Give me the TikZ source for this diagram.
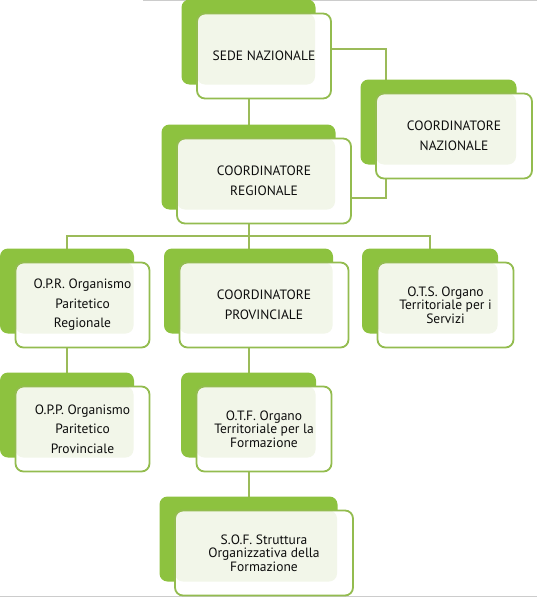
\documentclass[tikz,border=0pt]{standalone}
\usepackage{fontspec}
\setmainfont{PT Sans}
\usepackage{tikz}
\usetikzlibrary{positioning, shadows, backgrounds}
\definecolor{leafgreen}{HTML}{8DC23F}
\definecolor{edgegreen}{HTML}{93BC4F}
\definecolor{linkgreen}{HTML}{9BBB59}
\definecolor{palegreen}{HTML}{F2F6E9}
\definecolor{textdark}{HTML}{0D0D0D}
\definecolor{framegray}{HTML}{CCCCCC}
\tikzset{
  unit/.style={
    rectangle, rounded corners=8pt,
    minimum height=85pt, inner sep=4pt, outer sep=0pt,
    draw=edgegreen, line width=1.8pt, fill=white,
    text=textdark, align=center,
    general shadow={fill=leafgreen, shadow xshift=-15.5pt, shadow yshift=14pt},
    path picture={
      \fill[palegreen, rounded corners=8pt] (path picture bounding box.north west)
        rectangle ([xshift=-16pt,yshift=14pt]path picture bounding box.south east);
    },
  },
  loose/.style={font=\fontsize{13.5}{19.5}\selectfont},
  tight/.style={font=\fontsize{13.5}{13.5}\selectfont},
  link/.style={draw=linkgreen, line width=2pt},
  frame/.style={draw=framegray, line width=0.8pt},
}

\begin{document}
\begin{tikzpicture}
  \useasboundingbox (0,0) rectangle (537pt,-597pt);
  \draw[frame] (143pt,-0.4pt) -- (537pt,-0.4pt);
  \draw[frame] (0,-596.4pt) -- (537pt,-596.4pt);
  \node[unit,loose,minimum width=134pt] (sede) at (264pt,-56pt) {SEDE NAZIONALE};
  \node[unit,loose,minimum width=174pt,below=40pt of sede] (creg) {COORDINATORE\\REGIONALE};
  \node[unit,loose,minimum width=156pt,right=25pt of creg,yshift=45pt] (cnaz) {COORDINATORE\\NAZIONALE};
  \node[unit,loose,minimum width=169pt,below=39pt of creg] (cprov) {COORDINATORE\\PROVINCIALE};
  \node[unit,loose,minimum width=134pt,left=30pt of cprov] (opr) {O.P.R. Organismo\\Paritetico\\Regionale};
  \node[unit,tight,minimum width=136pt,right=29pt of cprov] (ots) {O.T.S. Organo\\Territoriale per i\\Servizi};
  \node[unit,loose,minimum width=134pt,below=39pt of opr] (opp) {O.P.P. Organismo\\Paritetico\\Provinciale};
  \node[unit,tight,minimum width=135pt,below=39pt of cprov] (otf) {O.T.F. Organo\\Territoriale per la\\Formazione};
  \node[unit,tight,minimum width=178pt,below=39pt of otf] (sof) {S.O.F. Struttura\\Organizzativa della\\Formazione};
  \begin{scope}[on background layer]
    \draw[link] ([xshift=-15.5pt]sede.south)--([xshift=-15.5pt]creg.north);
    \draw[link] ([yshift=7pt]sede.east)-|([xshift=10pt]cnaz.north west)|-([yshift=-16.5pt]creg.east);
    \draw[link] ([xshift=-15.5pt]creg.south)--([xshift=-15.5pt]cprov.north);
    \draw[link] ([xshift=-15.5pt]opr.north)--++(0,27pt)-|([xshift=-15.5pt]ots.north);
    \draw[link] ([xshift=-15.5pt]opr.south)--([xshift=-15.5pt]opp.north);
    \draw[link] ([xshift=-15.5pt]cprov.south)--([xshift=-15.5pt]otf.north);
    \draw[link] ([xshift=-15.5pt]otf.south)--([xshift=-15.5pt]sof.north);
  \end{scope}
\end{tikzpicture}
\end{document}
